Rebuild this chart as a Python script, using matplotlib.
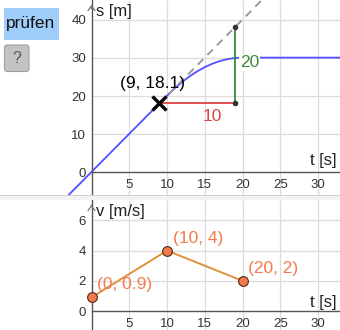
import numpy as np
import matplotlib
matplotlib.use("Agg")
import matplotlib.pyplot as plt
from matplotlib.patches import FancyBboxPatch, Rectangle

plt.rcParams['font.family'] = ['Liberation Sans', 'DejaVu Sans']

# distance-time curve
s_t = [-12, 0, 10, 11, 12, 13, 14, 15, 16, 17, 18, 19, 20, 33]
s_val = [-23.9, 0.1, 20.1, 22.0, 23.7, 25.2, 26.5, 27.6, 28.5, 29.2, 29.7, 30.0, 30.1, 30.1]

# tangent point and slope triangle
pt_t, pt_s = 9, 18.1
tan_t = [9, 24]
tan_s = [18.1, 48.1]
run_t = [9, 19]
run_s = [18.1, 18.1]
rise_t = [19, 19]
rise_s = [18.1, 38.1]

# velocity answer points
v_t = [0, 10, 20]
v_val = [0.9, 4, 2]
v_labels = ["(0, 0.9)", "(10, 4)", "(20, 2)"]

x_ticks = [5, 10, 15, 20, 25, 30]
s_ticks = [0, 10, 20, 30, 40]
v_ticks = [0, 2, 4, 6]

W, H = 340, 330
fig = plt.figure(figsize=(3.4, 3.3), dpi=100)
xlim = (-91.5 / 7.55, (W - 91.5) / 7.55)

grid_c = '#dcdcdc'
axis_c = '#555555'


def setup(ax, ylim, yticks, ylabel, arrow_top, t_label_y):
    ax.set_xlim(*xlim)
    ax.set_ylim(*ylim)
    for sp in ['top', 'right']:
        ax.spines[sp].set_visible(False)
    ax.spines['left'].set_position(('data', 0))
    ax.spines['bottom'].set_position(('data', 0))
    ax.spines['bottom'].set_bounds(0, xlim[1])
    for sp in ['left', 'bottom']:
        ax.spines[sp].set_color(axis_c)
        ax.spines[sp].set_linewidth(1.0)
    ax.set_xticks(x_ticks)
    ax.set_yticks(yticks)
    ax.tick_params(length=0, labelsize=9.5, labelcolor='#333333')
    ax.tick_params(axis='y', pad=4)
    ax.tick_params(axis='x', pad=5)
    ax.vlines(x_ticks, ylim[0], ylim[1], color=grid_c, lw=0.9, zorder=0)
    ax.hlines([y for y in yticks if y != 0], 0, xlim[1], color=grid_c, lw=0.9, zorder=0)
    ax.annotate('', xy=(0, arrow_top), xycoords=('data', 'axes fraction'),
                xytext=(0, arrow_top - 0.05), textcoords=('data', 'axes fraction'),
                arrowprops=dict(arrowstyle='->,head_length=0.35,head_width=0.25',
                                color='#777777', lw=0.9))
    ax.text(0.55, arrow_top - 0.012, ylabel, transform=ax.get_xaxis_transform(),
            fontsize=12, ha='left', va='top', color='#222222')
    ax.text(xlim[1] - 0.45, t_label_y, 't [s]', fontsize=12, ha='right', va='bottom',
            color='#222222')


# top panel: s(t)
ax1 = fig.add_axes([0, 135 / H, 1, 195 / H])
ylim1 = (-(195 - 172.3) / 3.81, 172.3 / 3.81)
setup(ax1, ylim1, s_ticks, 's [m]', 0.99, 1.0)

ax1.plot(s_t, s_val, color='#5050ff', lw=1.3, zorder=2)
ax1.plot(tan_t, tan_s, color='#9a9a9a', lw=1.4, ls=(0, (4, 3)), zorder=3)
ax1.plot(run_t, run_s, color='#dd4444', lw=1.3, zorder=3)
ax1.plot(rise_t, rise_s, color='#3a8a3a', lw=1.3, zorder=3)
ax1.plot([run_t[1], rise_t[1]], [run_s[1], rise_s[1]], 'o', color='#333333', ms=3, zorder=4)
ax1.plot(pt_t, pt_s, marker='x', color='black', ms=10, mew=2.4, zorder=5)
ax1.annotate(f"({pt_t}, {pt_s})", (pt_t, pt_s), xytext=(-5, 14), textcoords='offset points',
             ha='center', va='center', fontsize=12.5, color='black', zorder=6)
ax1.text((run_t[0] + run_t[1]) / 2 + 2, run_s[0] - 3.5, '10', color='#dd4444',
         fontsize=12.5, ha='center', va='center')
ax1.text(rise_t[0] + 1.9, 28.7, '20', color='#3a8a3a', fontsize=12.5, ha='center',
         va='center', bbox=dict(facecolor='white', edgecolor='none', pad=0.5), zorder=4)

# bottom panel: v(t)
ax2 = fig.add_axes([0, 0, 1, 130 / H])
ylim2 = (-(330 - 311) / 15.1, (311 - 200) / 15.1)
setup(ax2, ylim2, v_ticks, 'v [m/s]', 0.985, 0.07)

ax2.plot(v_t, v_val, color='#e0903c', lw=1.4, zorder=3)
ax2.plot(v_t, v_val, 'o', ms=7, mfc='#f47a4c', mec='#4a2a1a', mew=0.8, zorder=4,
         clip_on=False)
for t, v, lab in zip(v_t, v_val, v_labels):
    ax2.annotate(lab, (t, v), xytext=(4, 9), textcoords='offset points', ha='left',
                 va='center', fontsize=12.5, color='#f47a4c', zorder=5)

# separator between panels
fig.add_artist(Rectangle((0, 130 / H), 1, 5 / H, transform=fig.transFigure,
                         facecolor='#f2f2f2', edgecolor='none', zorder=5))
fig.add_artist(Rectangle((0, 134.5 / H), 1, 0.6 / H, transform=fig.transFigure,
                         facecolor='#d0d0d0', edgecolor='none', zorder=5))

# buttons
fig.add_artist(Rectangle((3.5 / W, 1 - 39.5 / H), 55.5 / W, 31 / H,
                         transform=fig.transFigure, facecolor='#a0cefa',
                         edgecolor='none', zorder=6))
fig.text(31 / W, 1 - 23.5 / H, 'prüfen', fontsize=12.5, ha='center', va='center',
         color='#111111', zorder=7)
fig.add_artist(FancyBboxPatch((4.5 / W, 1 - 71.5 / H), 24.5 / W, 26.5 / H,
                              boxstyle='round,pad=0,rounding_size=0.008',
                              transform=fig.transFigure, facecolor='#c3c3c3',
                              edgecolor='#a0a0a0', lw=0.8, zorder=6))
fig.text(16.8 / W, 1 - 58.5 / H, '?', fontsize=11.5, ha='center', va='center',
         color='#555555', zorder=7)

fig.savefig('out.png', dpi=100)
